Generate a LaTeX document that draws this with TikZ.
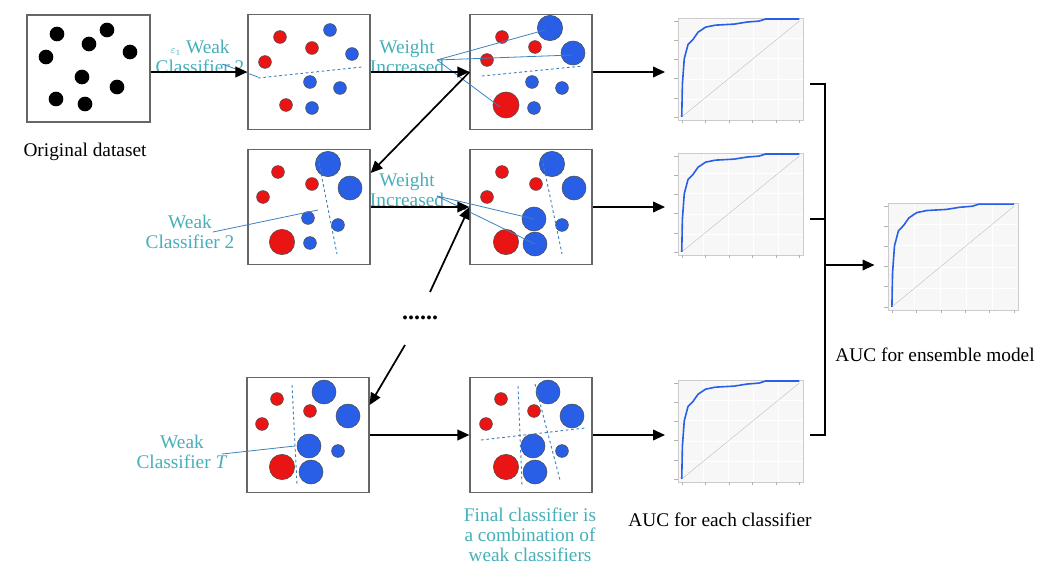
\documentclass[tikz,border=0pt]{standalone}
\usepackage{fontspec}
\setmainfont{Liberation Serif}
\usetikzlibrary{arrows.meta,fit,calc}
\definecolor{dotred}{RGB}{235,20,20}
\definecolor{dotblue}{RGB}{40,95,230}
\definecolor{tealtext}{RGB}{70,175,185}
\definecolor{pointer}{RGB}{60,130,190}
\tikzset{every picture/.style={line width=0.75pt}}
\tikzset{
  panel/.style={draw=black!60,line width=0.9pt,minimum width=91.5pt,minimum height=86.25pt,inner sep=0},
  flow/.style={line width=1.3pt,-{Triangle[length=9pt,width=8pt]}},
  rdot/.style={fill=dotred,draw=black!70,line width=0.4pt},
  bdot/.style={fill=dotblue,draw=black!70,line width=0.4pt},
  sep/.style={draw=pointer,line width=0.7pt,dash pattern=on 2pt off 2pt},
  ptr/.style={draw=pointer,line width=0.6pt},
  lbl/.style={font=\fontsize{14.5}{15}\selectfont,align=center,text=tealtext},
  captxt/.style={font=\fontsize{14.5}{16}\selectfont,align=center}
}
% small ROC panel: name, x0, y0 (bottom-left of axes), width, height
\newcommand\rocpanel[5]{%
  \begin{scope}[shift={(#2,#3)},xscale=#4,yscale=-#5]
    \fill[gray!6] (0,0) rectangle (1,1);
    \foreach \g in {0.2,0.4,0.6,0.8}{
      \draw[white,line width=0.5pt] (\g,0) -- (\g,1);
      \draw[white,line width=0.5pt] (0,\g) -- (1,\g);}
    \draw[gray!40,line width=0.4pt] (0,0) rectangle (1,1);
    \draw[gray!50,line width=0.3pt] (0.03,0.03) -- (0.97,0.97);
    \draw[dotblue,line width=1.2pt] (0.03,0.03) -- (0.035,0.35) -- (0.05,0.6) -- (0.08,0.74)
      -- (0.12,0.79) -- (0.16,0.86) -- (0.22,0.91) -- (0.3,0.93) -- (0.45,0.94) -- (0.55,0.96)
      -- (0.65,0.97) -- (0.7,0.99) -- (0.97,0.99);
    \foreach \g in {0,0.2,0.4,0.6,0.8,1}{
      \draw[gray!60,line width=0.3pt] (\g*0.94+0.03,0) -- ++(0,-0.03);
      \draw[gray!60,line width=0.3pt] (0,\g*0.94+0.03) -- ++(-0.03,0);}
    \coordinate (#1-sw) at (-0.1,-0.3);
    \coordinate (#1-ne) at (1.05,1);
  \end{scope}
  \node[fit={(#1-sw)(#1-ne)},inner sep=0] (#1) {};}

\begin{document}
\begin{tikzpicture}[x=0.75pt,y=0.75pt,yscale=-1,xscale=1]
\useasboundingbox (0,0) rectangle (1041,567);

% panels
\node[panel,minimum width=92.25pt,minimum height=80.25pt] (orig) at (88.5,68.5) {};
\node[panel] (A) at (309,72) {};
\node[panel] (B) at (531,72) {};
\node[panel] (C) at (309,207) {};
\node[panel] (D) at (531,207) {};
\node[panel] (E) at (308,435) {};
\node[panel] (F) at (531,435) {};

% original data
\foreach \px/\py in {57/34,107/30,89/44,130/52,46/57,82/77,117/87,56/99,85/104}
  \fill (\px,\py) circle[radius=5.5pt];

% round 1
\foreach \px/\py in {280/37,312/48,265/62,286/105} \path[rdot] (\px,\py) circle[radius=4.8pt];
\foreach \px/\py in {330/30,352/54,310/82,340/88,312/108} \path[bdot] (\px,\py) circle[radius=4.8pt];
\draw[sep] (258,78) -- (362,67);
\foreach \px/\py in {502/37,535/47,487/60} \path[rdot] (\px,\py) circle[radius=4.8pt];
\foreach \px/\py in {532/82,562/88,534/108} \path[bdot] (\px,\py) circle[radius=4.8pt];
\path[rdot] (506,105) circle[radius=9.8pt];
\path[bdot] (550,28) circle[radius=9.5pt];
\path[bdot] (573,53) circle[radius=9pt];
\draw[sep] (482,76) -- (583,66);

% round 2
\foreach \dx in {0,224}{
  \foreach \px/\py in {278/172,312/184,263/197} \path[rdot] (\px+\dx,\py) circle[radius=4.8pt];
  \path[rdot] (282+\dx,242) circle[radius=9.5pt];
  \path[bdot] (328+\dx,164) circle[radius=9.5pt];
  \path[bdot] (350+\dx,188) circle[radius=9pt];
  \path[bdot] (338+\dx,225) circle[radius=4.8pt];}
\path[bdot] (308,218) circle[radius=4.8pt];
\path[bdot] (310,243) circle[radius=4.8pt];
\path[bdot] (534,219) circle[radius=9pt];
\path[bdot] (535,244) circle[radius=9pt];
\draw[sep] (318,158) -- (337,254);
\draw[sep] (542,158) -- (562,254);

% round T and final
\foreach \dx in {0,224}{
  \foreach \px/\py in {277/399,310/411,262/424} \path[rdot] (\px+\dx,\py) circle[radius=4.8pt];
  \path[rdot] (282+\dx,467) circle[radius=9.5pt];
  \foreach \px/\py in {324/392,348/416,309/446,311/472} \path[bdot] (\px+\dx,\py) circle[radius=9pt];
  \path[bdot] (338+\dx,451) circle[radius=4.8pt];}
\draw[sep] (292,385) -- (297,485);
\draw[sep] (518,386) -- (522,485);
\draw[sep] (535,384) -- (560,480);
\draw[sep] (481,440) -- (585,428);

% ROC panels
\rocpanel{roca}{678}{120}{125}{102}
\rocpanel{rocb}{678}{255}{125}{102}
\rocpanel{rocc}{678}{482}{125}{102}
\rocpanel{rocf}{888}{310}{130}{107}

% texts
\node[captxt] (origtxt) at (85,152) {Original dataset};
\node[lbl] (wk1) at (200,57) {{\fontsize{8}{9}\selectfont$\varepsilon_1$} Weak\\Classifier 2};
\node[lbl] (wk2) at (190,232) {Weak\\Classifier 2};
\node[lbl] (wkT) at (182,452) {Weak\\Classifier \textit{T}};
\node[lbl] (wt1) at (407,57) {Weight\\Increased};
\node[lbl] (wt2) at (407,190) {Weight\\Increased};
\node[lbl] (fin) at (530,535) {Final classifier is\\a combination of\\weak classifiers};
\node[captxt] (auc) at (720,520) {AUC for each classifier};
\node[captxt] (auce) at (935,355) {AUC for ensemble model};
\node[font=\bfseries\fontsize{18}{18}\selectfont] (dots) at (420,318) {......};

% pointer lines
\coordinate (p1) at (258,77);
\draw[ptr] (222,64) -- (p1);
\draw[ptr] (437,60) -- (545,30);
\draw[ptr] (437,60) -- (572,55);
\draw[ptr] (437,60) -- (500,107);
\draw[ptr] (213,232) -- (318,210);
\draw[ptr] (437,196) -- (534,219);
\draw[ptr] (437,196) -- (535,244);
\draw[ptr] (222,454) -- (295,446);

% flow arrows
\draw[flow] (orig.east |- A.west) -- (A.west);
\draw[flow] (A) -- (B);
\draw[flow] (B.east) -- (B.east -| roca.west);
\draw[flow] (B.west) -- (C.north east |- 0,173);
\draw[flow] (C) -- (D);
\draw[flow] (D.east) -- (D.east -| rocb.west);
\coordinate (d1) at (430,292);
\draw[flow] (d1) -- (D.west);
\coordinate (d2) at (405,345);
\draw[flow] (d2) -- (E.east |- 0,405);
\draw[flow] (E) -- (F);
\draw[flow] (F.east) -- (F.east -| rocc.west);

% combine AUCs
\coordinate (brk) at (825,265);
\draw[line width=1.3pt] (roca.east) -| (brk |- F.east) -- (F.east -| rocc.east);
\draw[line width=1.3pt] (rocb.east) -- (rocb.east -| brk);
\draw[flow] (brk) -- (brk -| rocf.west);
\end{tikzpicture}
\end{document}
